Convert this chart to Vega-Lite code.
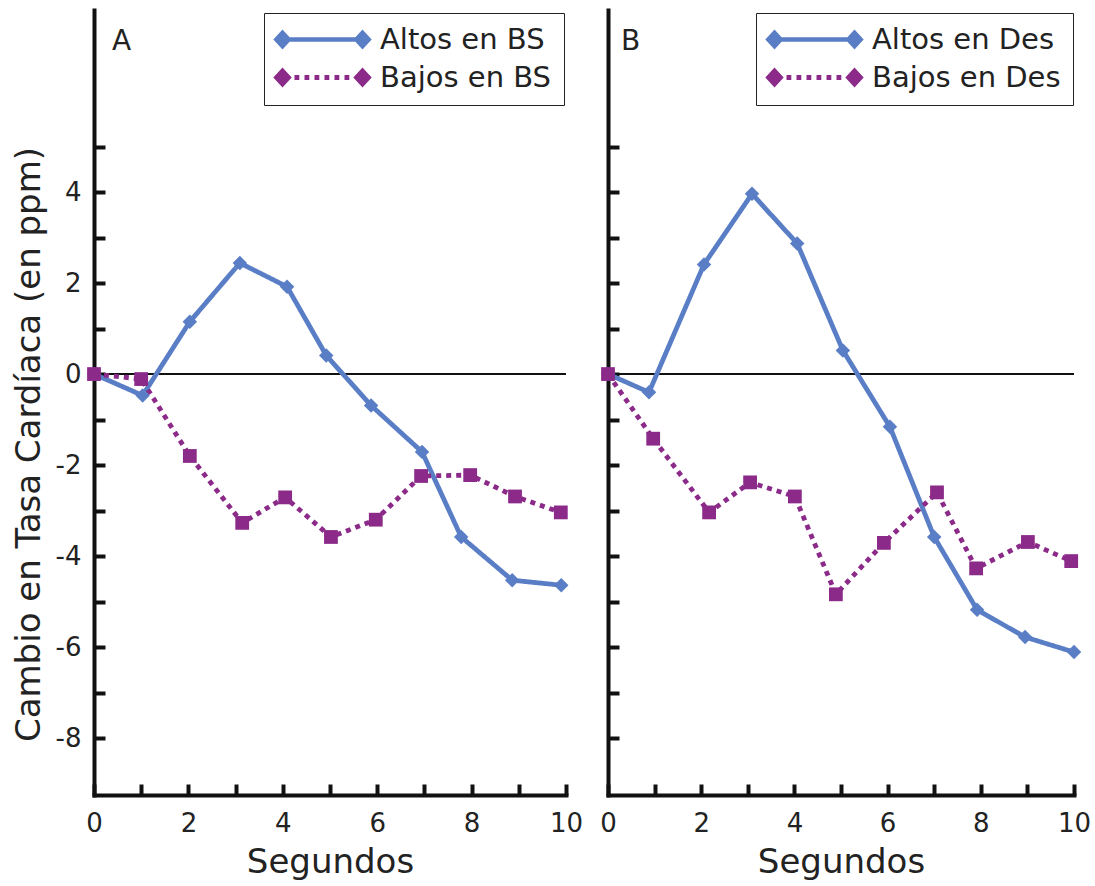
{
  "$schema": "https://vega.github.io/schema/vega-lite/v6.json",
  "background": "white",
  "padding": {"left": 12, "top": 10, "right": 5, "bottom": 5},
  "spacing": 42,
  "bounds": "flush",
  "config": {
    "view": {"stroke": null},
    "font": "DejaVu Sans",
    "axis": {
      "domainColor": "#111", "domainWidth": 4, "domainCap": "square",
      "tickColor": "#111", "tickWidth": 4, "tickSize": -11,
      "labelFont": "DejaVu Sans", "labelFontSize": 26, "labelColor": "#222", "labelFlush": false,
      "titleFont": "DejaVu Sans", "titleFontSize": 34, "titleColor": "#222", "titleFontWeight": "normal",
      "grid": false
    },
    "legend": {
      "labelFont": "DejaVu Sans", "labelFontSize": 29, "labelColor": "#222", "labelLimit": 500
    },
    "title": {"font": "DejaVu Sans", "fontSize": 28, "fontWeight": "normal", "color": "#222"}
  },
  "hconcat": [
    {
      "width": 472,
      "height": 785,
      "title": {"text": "A", "anchor": "start", "frame": "group", "offset": -40, "dx": 18, "dy": 28, "baseline": "alphabetic"},
      "data": {"values": [
        {"series": "Altos en BS", "t": 0, "v": 0},
        {"series": "Altos en BS", "t": 1.03, "v": -0.47},
        {"series": "Altos en BS", "t": 2.03, "v": 1.15},
        {"series": "Altos en BS", "t": 3.09, "v": 2.44},
        {"series": "Altos en BS", "t": 4.09, "v": 1.92},
        {"series": "Altos en BS", "t": 4.92, "v": 0.41},
        {"series": "Altos en BS", "t": 5.87, "v": -0.69},
        {"series": "Altos en BS", "t": 6.95, "v": -1.71},
        {"series": "Altos en BS", "t": 7.78, "v": -3.58},
        {"series": "Altos en BS", "t": 8.86, "v": -4.53},
        {"series": "Altos en BS", "t": 9.9, "v": -4.64},
        {"series": "Bajos en BS", "t": 0, "v": 0},
        {"series": "Bajos en BS", "t": 1.0, "v": -0.11},
        {"series": "Bajos en BS", "t": 2.03, "v": -1.8},
        {"series": "Bajos en BS", "t": 3.14, "v": -3.27},
        {"series": "Bajos en BS", "t": 4.05, "v": -2.71},
        {"series": "Bajos en BS", "t": 5.02, "v": -3.58},
        {"series": "Bajos en BS", "t": 5.97, "v": -3.2},
        {"series": "Bajos en BS", "t": 6.93, "v": -2.24},
        {"series": "Bajos en BS", "t": 7.97, "v": -2.22},
        {"series": "Bajos en BS", "t": 8.92, "v": -2.69},
        {"series": "Bajos en BS", "t": 9.89, "v": -3.04}
      ]},
      "layer": [
        {
          "mark": {"type": "rule", "color": "#111", "strokeWidth": 2},
          "encoding": {"y": {"datum": 0, "type": "quantitative", "scale": {"domain": [-9.25, 8], "nice": false, "zero": false}}}
        },
        {
          "mark": {"type": "line", "strokeWidth": 4.8, "strokeCap": "butt"},
          "encoding": {
            "x": {"field": "t", "type": "quantitative", "scale": {"domain": [0, 10], "nice": false},
              "axis": {"values": [0,1,2,3,4,5,6,7,8,9,10], "labelExpr": "datum.value % 2 == 0 ? toString(datum.value) : ''", "title": "Segundos", "titleY": 77, "titleBaseline": "alphabetic", "labelPadding": 26}},
            "y": {"field": "v", "type": "quantitative", "scale": {"domain": [-9.25, 8], "nice": false, "zero": false},
              "axis": {"values": [-8,-7,-6,-5,-4,-3,-2,-1,0,1,2,3,4,5], "labelExpr": "datum.value % 2 == 0 ? toString(datum.value) : ''", "title": "Cambio en Tasa Cardíaca (en ppm)", "titleX": -55, "titleY": 434, "titleBaseline": "alphabetic", "labelPadding": 24}},
            "color": {"field": "series", "type": "nominal",
              "scale": {"domain": ["Altos en BS", "Bajos en BS"], "range": ["#5a7ec6", "#8b2a89"]},
              "legend": {
                "title": null, "orient": "none", "legendX": 170, "legendY": 3,
                "padding": 12, "strokeColor": "#222", "fillColor": "white",
                "symbolType": "M-1,-0.28H9V0.28H-1ZM-2.15,0L-1,-1.25L0.15,0L-1,1.25ZM7.85,0L9,-1.25L10.15,0L9,1.25Z",
                "symbolSize": 256, "symbolStrokeWidth": 0, "labelOffset": 75, "rowPadding": 8,
                "labelExpr": "datum.label + '\u00a0\u00a0\u00a0\u00a0'",
                "encode": {"symbols": {"update": {
                  "shape": {"signal": "test(/Bajos/, datum.value) ? 'M-2.15,0L-1,-1.25L0.15,0L-1,1.25ZM7.85,0L9,-1.25L10.15,0L9,1.25ZM0.5,-0.3H1.1V0.3H0.5ZM1.75,-0.3H2.35V0.3H1.75ZM3,-0.3H3.6V0.3H3ZM4.25,-0.3H4.85V0.3H4.25ZM5.5,-0.3H6.1V0.3H5.5ZM6.75,-0.3H7.35V0.3H6.75Z' : 'M-1,-0.28H9V0.28H-1ZM-2.15,0L-1,-1.25L0.15,0L-1,1.25ZM7.85,0L9,-1.25L10.15,0L9,1.25Z'"},
                  "strokeWidth": {"value": 0},
                  "fill": {"signal": "test(/Altos/, datum.value) ? '#5a7ec6' : '#8b2a89'"},
                  "stroke": {"signal": "test(/Altos/, datum.value) ? '#5a7ec6' : '#8b2a89'"},
                  "strokeDash": {"value": [1, 0]},
                  "fillOpacity": {"value": 1}, "opacity": {"value": 1}
                }}}
              }},
            "strokeDash": {"field": "series", "type": "nominal",
              "scale": {"domain": ["Altos en BS", "Bajos en BS"], "range": [[1, 0], [5, 5]]}, "legend": null}
          }
        },
        {
          "transform": [{"filter": "test(/Altos/, datum.series)"}],
          "mark": {"type": "point", "filled": true, "opacity": 1, "size": 210, "shape": "diamond"},
          "encoding": {
            "x": {"field": "t", "type": "quantitative"},
            "y": {"field": "v", "type": "quantitative"},
            "color": {"field": "series", "type": "nominal"}
          }
        },
        {
          "transform": [{"filter": "test(/Bajos/, datum.series)"}],
          "mark": {"type": "point", "filled": true, "opacity": 1, "size": 190, "shape": "square"},
          "encoding": {
            "x": {"field": "t", "type": "quantitative"},
            "y": {"field": "v", "type": "quantitative"},
            "color": {"field": "series", "type": "nominal"}
          }
        }
      ]
    },
    {
      "width": 466,
      "height": 785,
      "title": {"text": "B", "anchor": "start", "frame": "group", "offset": -40, "dx": 13, "dy": 28, "baseline": "alphabetic"},
      "data": {"values": [
        {"series": "Altos en Des", "t": 0, "v": 0},
        {"series": "Altos en Des", "t": 0.88, "v": -0.4},
        {"series": "Altos en Des", "t": 2.06, "v": 2.41},
        {"series": "Altos en Des", "t": 3.09, "v": 3.96},
        {"series": "Altos en Des", "t": 4.06, "v": 2.87},
        {"series": "Altos en Des", "t": 5.04, "v": 0.52},
        {"series": "Altos en Des", "t": 6.05, "v": -1.16},
        {"series": "Altos en Des", "t": 7.0, "v": -3.58},
        {"series": "Altos en Des", "t": 7.92, "v": -5.18},
        {"series": "Altos en Des", "t": 8.95, "v": -5.78},
        {"series": "Altos en Des", "t": 10.0, "v": -6.11},
        {"series": "Bajos en Des", "t": 0, "v": 0},
        {"series": "Bajos en Des", "t": 0.97, "v": -1.42},
        {"series": "Bajos en Des", "t": 2.17, "v": -3.04},
        {"series": "Bajos en Des", "t": 3.05, "v": -2.38},
        {"series": "Bajos en Des", "t": 4.01, "v": -2.69},
        {"series": "Bajos en Des", "t": 4.89, "v": -4.84},
        {"series": "Bajos en Des", "t": 5.92, "v": -3.71},
        {"series": "Bajos en Des", "t": 7.06, "v": -2.6},
        {"series": "Bajos en Des", "t": 7.9, "v": -4.27},
        {"series": "Bajos en Des", "t": 9.01, "v": -3.69},
        {"series": "Bajos en Des", "t": 9.94, "v": -4.11}
      ]},
      "layer": [
        {
          "mark": {"type": "rule", "color": "#111", "strokeWidth": 2},
          "encoding": {"y": {"datum": 0, "type": "quantitative", "scale": {"domain": [-9.25, 8], "nice": false, "zero": false}}}
        },
        {
          "mark": {"type": "line", "strokeWidth": 4.8, "strokeCap": "butt"},
          "encoding": {
            "x": {"field": "t", "type": "quantitative", "scale": {"domain": [0, 10], "nice": false},
              "axis": {"values": [0,1,2,3,4,5,6,7,8,9,10], "labelExpr": "datum.value % 2 == 0 ? toString(datum.value) : ''", "title": "Segundos", "titleY": 77, "titleBaseline": "alphabetic", "labelPadding": 26}},
            "y": {"field": "v", "type": "quantitative", "scale": {"domain": [-9.25, 8], "nice": false, "zero": false},
              "axis": {"values": [-8,-7,-6,-5,-4,-3,-2,-1,0,1,2,3,4,5], "labels": false, "title": null}},
            "color": {"field": "series", "type": "nominal",
              "scale": {"domain": ["Altos en Des", "Bajos en Des"], "range": ["#5a7ec6", "#8b2a89"]},
              "legend": {
                "title": null, "orient": "none", "legendX": 148, "legendY": 3,
                "padding": 12, "strokeColor": "#222", "fillColor": "white",
                "symbolType": "M-1,-0.28H9V0.28H-1ZM-2.15,0L-1,-1.25L0.15,0L-1,1.25ZM7.85,0L9,-1.25L10.15,0L9,1.25Z",
                "symbolSize": 256, "symbolStrokeWidth": 0, "labelOffset": 75, "rowPadding": 8,
                "labelExpr": "datum.label + '\u00a0\u00a0'",
                "encode": {"symbols": {"update": {
                  "shape": {"signal": "test(/Bajos/, datum.value) ? 'M-2.15,0L-1,-1.25L0.15,0L-1,1.25ZM7.85,0L9,-1.25L10.15,0L9,1.25ZM0.5,-0.3H1.1V0.3H0.5ZM1.75,-0.3H2.35V0.3H1.75ZM3,-0.3H3.6V0.3H3ZM4.25,-0.3H4.85V0.3H4.25ZM5.5,-0.3H6.1V0.3H5.5ZM6.75,-0.3H7.35V0.3H6.75Z' : 'M-1,-0.28H9V0.28H-1ZM-2.15,0L-1,-1.25L0.15,0L-1,1.25ZM7.85,0L9,-1.25L10.15,0L9,1.25Z'"},
                  "strokeWidth": {"value": 0},
                  "fill": {"signal": "test(/Altos/, datum.value) ? '#5a7ec6' : '#8b2a89'"},
                  "stroke": {"signal": "test(/Altos/, datum.value) ? '#5a7ec6' : '#8b2a89'"},
                  "strokeDash": {"value": [1, 0]},
                  "fillOpacity": {"value": 1}, "opacity": {"value": 1}
                }}}
              }},
            "strokeDash": {"field": "series", "type": "nominal",
              "scale": {"domain": ["Altos en Des", "Bajos en Des"], "range": [[1, 0], [5, 5]]}, "legend": null}
          }
        },
        {
          "transform": [{"filter": "test(/Altos/, datum.series)"}],
          "mark": {"type": "point", "filled": true, "opacity": 1, "size": 210, "shape": "diamond"},
          "encoding": {
            "x": {"field": "t", "type": "quantitative"},
            "y": {"field": "v", "type": "quantitative"},
            "color": {"field": "series", "type": "nominal"}
          }
        },
        {
          "transform": [{"filter": "test(/Bajos/, datum.series)"}],
          "mark": {"type": "point", "filled": true, "opacity": 1, "size": 190, "shape": "square"},
          "encoding": {
            "x": {"field": "t", "type": "quantitative"},
            "y": {"field": "v", "type": "quantitative"},
            "color": {"field": "series", "type": "nominal"}
          }
        }
      ]
    }
  ],
  "resolve": {
    "scale": {"color": "independent", "strokeDash": "independent", "x": "independent", "y": "independent"},
    "legend": {"color": "independent"}
  }
}
